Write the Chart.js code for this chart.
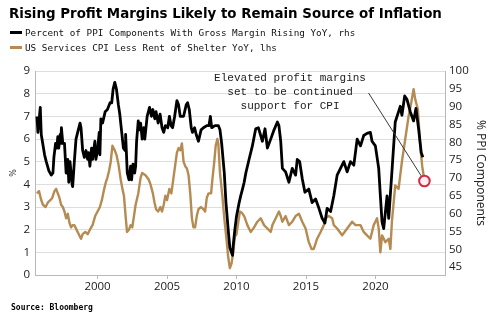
<!DOCTYPE html>
<html>
<head>
<meta charset="utf-8">
<script src="https://cdn.jsdelivr.net/npm/chart.js@4/dist/chart.umd.min.js"></script>
<style>
  html, body { margin: 0; padding: 0; background: #fff; }
  #wrap { position: relative; width: 500px; height: 324px; overflow: hidden; }
  #chart { position: absolute; left: 0; top: 0; }
  .title { position: absolute; left: 9px; top: 6px; font: bold 13.4px "DejaVu Sans", sans-serif; line-height: 16px; color: #000; white-space: nowrap; }
  .legend { position: absolute; left: 10px; font: 9.3px "DejaVu Sans Mono", monospace; line-height: 12px; color: #111; white-space: nowrap; }
  .legend .sw { display: inline-block; width: 12px; height: 3px; vertical-align: middle; margin-right: 3px; position: relative; top: -1px; }
  .source { position: absolute; left: 11px; top: 303px; font: bold 8px "DejaVu Sans Mono", monospace; line-height: 10px; color: #000; white-space: nowrap; }
</style>
</head>
<body>
<div id="wrap">
  <canvas id="chart" width="500" height="324"></canvas>
  <div class="title">Rising Profit Margins Likely to Remain Source of Inflation</div>
  <div class="legend" style="top:27px"><span class="sw" style="background:#000"></span>Percent of PPI Components With Gross Margin Rising YoY, rhs</div>
  <div class="legend" style="top:42px"><span class="sw" style="background:#b58b52"></span>US Services CPI Less Rent of Shelter YoY, lhs</div>
  <div class="source">Source: Bloomberg</div>
</div>
<script>
// Percent of PPI components with gross margin rising YoY (right axis, %)
const ppiYears = [
  1995.64, 1995.71, 1995.88, 1995.95, 1996.19, 1996.31, 1996.50, 1996.67, 1996.79, 1996.86,
  1996.98, 1997.07, 1997.14, 1997.21, 1997.31, 1997.36, 1997.40, 1997.50, 1997.62, 1997.74,
  1997.86, 1997.93, 1998.02, 1998.17, 1998.21, 1998.33, 1998.45, 1998.57, 1998.74, 1998.81,
  1998.93, 1999.05, 1999.17, 1999.29, 1999.36, 1999.45, 1999.57, 1999.64, 1999.81, 1999.88,
  2000.00, 2000.12, 2000.17, 2000.24, 2000.36, 2000.55, 2000.71, 2000.90, 2001.02, 2001.12,
  2001.24, 2001.36, 2001.50, 2001.60, 2001.74, 2001.86, 2001.98, 2002.02, 2002.14, 2002.26,
  2002.38, 2002.45, 2002.55, 2002.67, 2002.74, 2002.81, 2002.93, 2003.02, 2003.10, 2003.21,
  2003.33, 2003.40, 2003.57, 2003.74, 2003.88, 2003.98, 2004.12, 2004.21, 2004.36, 2004.50,
  2004.64, 2004.76, 2004.88, 2005.05, 2005.17, 2005.29, 2005.40, 2005.55, 2005.71, 2005.83,
  2005.95, 2006.19, 2006.38, 2006.48, 2006.60, 2006.74, 2006.83, 2006.98, 2007.10, 2007.26,
  2007.45, 2007.62, 2007.86, 2008.02, 2008.12, 2008.21, 2008.45, 2008.69, 2008.81, 2008.93,
  2009.12, 2009.24, 2009.40, 2009.52, 2009.64, 2009.71, 2009.76, 2009.88, 2010.00, 2010.19,
  2010.30, 2010.43, 2010.55, 2010.67, 2010.90, 2011.14, 2011.38, 2011.57, 2011.86, 2012.05,
  2012.22, 2012.46, 2012.70, 2012.94, 2013.05, 2013.18, 2013.30, 2013.53, 2013.77, 2014.01,
  2014.25, 2014.37, 2014.54, 2014.73, 2014.92, 2015.20, 2015.44, 2015.69, 2015.93, 2016.16,
  2016.36, 2016.52, 2016.77, 2017.00, 2017.24, 2017.48, 2017.72, 2017.96, 2018.20, 2018.44,
  2018.68, 2018.92, 2019.15, 2019.39, 2019.63, 2019.75, 2019.99, 2020.23, 2020.35, 2020.47,
  2020.59, 2020.83, 2020.95, 2021.18, 2021.42, 2021.66, 2021.78, 2021.90, 2022.10, 2022.26,
  2022.50, 2022.74, 2022.91, 2023.10, 2023.29, 2023.41
];
const ppiShare = [
  87.3, 82.8, 89.8, 82.2, 76.5, 74.6, 72.0, 70.8, 71.4, 75.8,
  79.7, 78.4, 81.6, 78.4, 82.2, 79.7, 84.1, 79.7, 79.7, 71.4,
  75.2, 68.8, 74.6, 68.2, 67.6, 74.6, 80.9, 82.8, 85.4, 84.1,
  77.7, 75.8, 77.7, 75.2, 77.1, 73.3, 78.4, 75.2, 80.3, 75.2,
  77.7, 82.8, 76.5, 86.6, 85.4, 88.6, 89.2, 91.1, 91.1, 94.9,
  96.8, 94.9, 90.5, 87.9, 82.8, 78.4, 77.7, 82.2, 71.4, 69.5,
  73.3, 69.5, 73.9, 71.4, 73.3, 80.3, 86.0, 83.5, 85.4, 80.9,
  84.1, 80.9, 87.3, 89.8, 87.3, 89.2, 86.6, 88.6, 85.4, 87.9,
  84.1, 82.8, 84.7, 84.1, 87.3, 84.7, 84.1, 87.3, 91.7, 90.5,
  87.3, 87.3, 90.5, 91.1, 89.2, 84.1, 82.8, 84.1, 82.2, 80.3,
  83.5, 84.1, 84.7, 84.7, 87.3, 84.1, 84.7, 84.7, 83.5, 79.7,
  71.4, 63.1, 55.5, 50.4, 49.1, 48.3, 51.0, 55.5, 59.3, 63.1,
  65.0, 66.9, 68.8, 71.4, 75.2, 79.0, 83.8, 84.1, 80.3, 83.8,
  78.4, 80.9, 83.5, 85.7, 84.7, 80.3, 72.7, 71.7, 68.8, 72.7,
  70.8, 75.2, 74.6, 69.8, 66.0, 66.9, 63.1, 64.1, 61.5, 58.7,
  57.4, 61.5, 60.6, 65.0, 70.8, 72.7, 74.6, 71.7, 74.6, 73.6,
  80.9, 79.0, 81.9, 82.5, 82.8, 80.3, 79.0, 72.7, 65.0, 57.7,
  55.8, 65.0, 58.7, 71.7, 85.7, 88.6, 90.1, 87.6, 93.0, 92.1,
  88.6, 86.0, 89.5, 83.8, 77.1, 75.8
];

// US services CPI less rent of shelter, YoY (left axis, %)
const cpiYears = [
  1995.64, 1995.79, 1995.95, 1996.07, 1996.26, 1996.43, 1996.60, 1996.74, 1996.90, 1997.02,
  1997.14, 1997.26, 1997.38, 1997.50, 1997.62, 1997.74, 1997.86, 1997.98, 1998.10, 1998.21,
  1998.33, 1998.57, 1998.81, 1998.93, 1999.12, 1999.29, 1999.45, 1999.64, 1999.83, 2000.00,
  2000.17, 2000.31, 2000.48, 2000.60, 2000.71, 2000.83, 2000.95, 2001.07, 2001.24, 2001.36,
  2001.50, 2001.67, 2001.79, 2001.90, 2002.02, 2002.12, 2002.26, 2002.38, 2002.50, 2002.62,
  2002.74, 2002.93, 2003.10, 2003.21, 2003.45, 2003.69, 2003.81, 2003.98, 2004.10, 2004.21,
  2004.36, 2004.52, 2004.64, 2004.76, 2004.88, 2005.00, 2005.17, 2005.31, 2005.40, 2005.71,
  2005.83, 2005.95, 2006.07, 2006.19, 2006.31, 2006.43, 2006.55, 2006.67, 2006.79, 2006.90,
  2007.02, 2007.14, 2007.26, 2007.45, 2007.62, 2007.74, 2007.86, 2007.98, 2008.17, 2008.26,
  2008.40, 2008.50, 2008.62, 2008.69, 2008.81, 2008.98, 2009.12, 2009.29, 2009.40, 2009.52,
  2009.64, 2009.76, 2009.88, 2010.00, 2010.12, 2010.24, 2010.38, 2010.55, 2010.78, 2011.02,
  2011.26, 2011.50, 2011.74, 2011.98, 2012.22, 2012.46, 2012.58, 2012.82, 2013.05, 2013.18,
  2013.30, 2013.53, 2013.77, 2014.01, 2014.25, 2014.49, 2014.73, 2014.97, 2015.20, 2015.40,
  2015.56, 2015.80, 2016.05, 2016.28, 2016.40, 2016.64, 2016.88, 2017.00, 2017.24, 2017.60,
  2017.96, 2018.32, 2018.56, 2018.92, 2019.15, 2019.39, 2019.63, 2019.87, 2020.11, 2020.23,
  2020.35, 2020.47, 2020.71, 2020.95, 2021.07, 2021.18, 2021.42, 2021.66, 2021.90, 2022.14,
  2022.38, 2022.57, 2022.74, 2022.86, 2023.05, 2023.22, 2023.36, 2023.52
];
const cpiServices = [
  3.6, 3.7, 3.3, 3.1, 3.0, 3.2, 3.3, 3.4, 3.7, 3.8,
  3.6, 3.4, 3.1, 3.0, 2.8, 2.5, 2.7, 2.3, 2.1, 2.2,
  2.2, 1.9, 1.6, 1.8, 1.9, 1.8, 2.0, 2.2, 2.6, 2.8,
  3.0, 3.3, 3.8, 4.1, 4.3, 4.6, 5.0, 5.7, 5.5, 5.3,
  4.9, 4.2, 3.8, 3.5, 2.6, 1.9, 2.0, 2.2, 2.1, 2.6,
  3.1, 3.6, 4.3, 4.5, 4.4, 4.2, 4.0, 3.6, 3.2, 2.9,
  2.8, 3.0, 2.8, 3.1, 3.5, 3.3, 3.8, 3.6, 4.0, 5.4,
  5.6, 5.5, 5.8, 5.0, 4.8, 4.7, 4.4, 3.6, 2.5, 2.1,
  2.1, 2.6, 2.9, 3.0, 2.9, 2.8, 3.4, 3.6, 3.6, 4.2,
  5.0, 5.7, 6.0, 5.8, 4.5, 3.5, 2.5, 1.5, 0.8, 0.3,
  0.5, 1.0, 1.7, 1.8, 2.3, 2.8, 2.75, 2.6, 2.2, 1.9,
  2.1, 2.35, 2.5, 2.2, 2.05, 1.9, 2.2, 2.5, 2.8, 2.6,
  2.35, 2.6, 2.2, 2.35, 2.6, 2.7, 2.35, 2.05, 1.45, 1.15,
  1.15, 1.6, 1.9, 2.2, 2.5, 2.6, 2.5, 2.2, 2.05, 1.75,
  2.05, 2.35, 2.2, 2.2, 1.9, 1.75, 1.6, 2.2, 2.5, 2.05,
  1.0, 1.75, 1.45, 1.6, 1.15, 2.35, 3.95, 3.8, 5.0, 6.0,
  7.0, 7.6, 8.2, 7.75, 7.3, 5.7, 4.8, 4.15
];

const xTickYears = [2000, 2005, 2010, 2015, 2020];
const leftTicks = [0, 1, 2, 3, 4, 5, 6, 7, 8, 9];
const rightTicks = [45, 50, 55, 60, 65, 70, 75, 80, 85, 90, 95, 100];

const noteLines = ['Elevated profit margins', 'set to be continued', 'support for CPI'];

const pairs = (xs, ys) => xs.map((x, i) => ({ x, y: ys[i] }));
const lastCpi = cpiServices.length - 1;

// Callout text with a thin leader line to the circled latest CPI reading
const calloutPlugin = {
  id: 'callout',
  afterDatasetsDraw(chart, args, opts) {
    const { ctx, scales } = chart;
    const xs = scales.x, yl = scales.yL;
    ctx.save();
    ctx.font = '11px "Liberation Mono", monospace';
    ctx.fillStyle = '#1a1a1a';
    ctx.textAlign = 'center';
    ctx.textBaseline = 'middle';
    const cx = xs.getPixelForValue(opts.textX);
    opts.lines.forEach((t, i) => ctx.fillText(t, cx, yl.getPixelForValue(opts.textY[i])));
    // leader line from the text to the edge of the circled point
    const meta = chart.getDatasetMeta(1);
    const pt = meta.data[lastCpi];
    const sx = xs.getPixelForValue(opts.leadX), sy = yl.getPixelForValue(opts.leadY);
    const dx = pt.x - sx, dy = pt.y - sy, len = Math.hypot(dx, dy);
    const r = 6;
    ctx.beginPath();
    ctx.moveTo(sx, sy);
    ctx.lineTo(pt.x - dx / len * r, pt.y - dy / len * r);
    ctx.strokeStyle = '#3a3a3a';
    ctx.lineWidth = 1;
    ctx.stroke();
    ctx.restore();
  }
};

const tickFont = { family: '"Open Sans", sans-serif', size: 11.5 };
Chart.defaults.color = '#222';

new Chart(document.getElementById('chart'), {
  type: 'line',
  data: {
    datasets: [
      {
        label: 'Percent of PPI Components With Gross Margin Rising YoY, rhs',
        data: pairs(ppiYears, ppiShare),
        yAxisID: 'yR',
        borderColor: '#000',
        borderWidth: 2.8,
        borderJoinStyle: 'round',
        pointRadius: 0,
        tension: 0
      },
      {
        label: 'US Services CPI Less Rent of Shelter YoY, lhs',
        data: pairs(cpiYears, cpiServices),
        yAxisID: 'yL',
        borderColor: '#b58b52',
        borderWidth: 2.4,
        borderJoinStyle: 'round',
        tension: 0,
        pointRadius: ctx => ctx.dataIndex === lastCpi ? 5.3 : 0,
        pointBorderWidth: 2,
        pointBorderColor: '#d12a44',
        pointBackgroundColor: 'rgba(255,240,242,0.95)'
      }
    ]
  },
  options: {
    responsive: false,
    animation: false,
    events: [],
    layout: { padding: { top: 71, bottom: 24, left: 0, right: 0 } },
    plugins: {
      legend: { display: false },
      tooltip: { enabled: false },
      callout: {
        lines: noteLines,
        textX: 2013.85,
        textY: [8.69, 8.05, 7.43],
        leadX: 2019.5,
        leadY: 8.03
      }
    },
    scales: {
      x: {
        type: 'linear',
        min: 1995.5,
        max: 2025,
        afterBuildTicks: s => { s.ticks = xTickYears.map(v => ({ value: v })); },
        afterFit: s => { s.height = 25; },
        ticks: { font: tickFont, color: '#222', padding: 1, maxRotation: 0, autoSkip: false, callback: v => String(v) },
        grid: { drawOnChartArea: false, tickLength: 4, color: '#b8b8b8' },
        border: { color: '#b8b8b8' }
      },
      yL: {
        position: 'left',
        min: 0,
        max: 9,
        afterBuildTicks: s => { s.ticks = leftTicks.map(v => ({ value: v })); },
        afterFit: s => { s.width = 35; },
        ticks: { font: tickFont, color: '#222', padding: 5 },
        grid: { color: '#dedede', drawTicks: false },
        border: { color: '#b8b8b8' },
        title: { display: true, text: '%', font: { family: '"DejaVu Sans", sans-serif', size: 8 }, color: '#333', padding: { top: 9, bottom: 0 } }
      },
      yR: {
        position: 'right',
        min: 42.8,
        max: 100,
        afterBuildTicks: s => { s.ticks = rightTicks.map(v => ({ value: v })); },
        afterFit: s => { s.width = 55; },
        ticks: { font: tickFont, color: '#222', padding: 4 },
        grid: { drawOnChartArea: false, drawTicks: false },
        border: { color: '#b8b8b8' },
        title: { display: true, text: '% PPI Components', font: { family: '"Open Sans", sans-serif', size: 12 }, color: '#222', padding: { top: 12, bottom: 0 } }
      }
    }
  },
  plugins: [calloutPlugin]
});
</script>
</body>
</html>
